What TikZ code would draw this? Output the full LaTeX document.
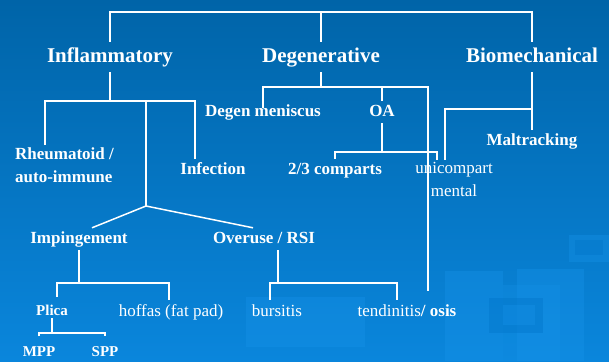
\documentclass[tikz,border=0pt]{standalone}
\usepackage{fontspec}
\setmainfont{Liberation Serif}
\usetikzlibrary{calc}
\definecolor{bgtop}{HTML}{0064A8}
\definecolor{bgmid}{HTML}{006AB4}
\definecolor{bgbot}{HTML}{0A86DC}
\definecolor{deco}{HTML}{1894EA}
\definecolor{decod}{HTML}{0074C8}
\begin{document}
\begin{tikzpicture}[x=1pt,y=-1pt,
  lbl/.style={text=white, inner xsep=0pt, anchor=base},
  lvlA/.style={lbl, font=\fontsize{21}{25}\selectfont\bfseries, text height=15pt, text depth=5pt, inner ysep=5pt},
  lvlB/.style={lbl, font=\fontsize{17}{23}\selectfont\bfseries, text height=12pt, text depth=4pt, inner ysep=3pt},
  lvlR/.style={lbl, font=\fontsize{17}{23}\selectfont, text height=12pt, text depth=4pt, inner ysep=4pt},
  lvlC/.style={lbl, font=\fontsize{15}{18}\selectfont\bfseries, text height=10.5pt, text depth=3.5pt, inner ysep=9pt},
  multi/.style={text=white, inner xsep=0pt},
  conn/.style={draw=white, line width=2pt}]
\useasboundingbox (0,0) rectangle (609,361);
\shade[top color=bgtop, middle color=bgmid, bottom color=bgbot] (0,0) rectangle (609,361);
% decorative background shapes
\fill[deco, opacity=0.35] (246,297) rectangle (365,347);
\fill[deco, opacity=0.35] (445,271) rectangle (503,361);
\fill[deco, opacity=0.35] (517,269) rectangle (584,361);
\fill[deco, opacity=0.25] (503,285) rectangle (560,361);
\fill[decod, opacity=0.4] (489,298) rectangle (543,333);
\fill[deco, opacity=0.35] (503,305) rectangle (535,325);
\fill[deco, opacity=0.35] (569,235) rectangle (609,262);
\fill[decod, opacity=0.4] (575,240) rectangle (603,255);

% nodes
\node[lvlA] (infl) at (110,62) {Inflammatory};
\node[lvlA] (degen) at (321,62) {Degenerative};
\node[lvlA] (bio) at (532,62) {Biomechanical};
\node[lvlB, text height=5pt] (meniscus) at (263,116) {Degen meniscus};
\node[lvlB] (oa) at (382,116) {OA};
\node[multi, anchor=north west, align=left, inner ysep=3pt, font=\fontsize{17}{23}\selectfont\bfseries] (rheum) at (15,145) {Rheumatoid /\\auto-immune};
\node[lvlB] (infection) at (213,174) {Infection};
\node[lvlB] (malt) at (532,145) {Maltracking};
\node[lvlB] (comparts) at (335,174) {2/3 comparts};
\node[multi, anchor=north, align=center, inner ysep=2pt, font=\fontsize{17}{23}\selectfont] (unicomp) at (454,160) {unicompart\\mental};
\node[lvlB] (impinge) at (79,243) {Impingement};
\node[lvlB] (overuse) at (264,243) {Overuse / RSI};
\node[lvlC, text height=18pt, text depth=3pt, inner ysep=0pt] (plica) at (52,315) {Plica};
\node[lvlR] (hoffas) at (171,316) {hoffas (fat pad)};
\node[lvlC] (mpp) at (39,356) {MPP};
\node[lvlC] (spp) at (105,356) {SPP};
\node[lvlR] (bursitis) at (277,316) {bursitis};
\node[lvlR] (tendinitis) at (407,316) {tendinitis\textbf{/ osis}};

% helper coordinates
\coordinate (topbar) at (0,12);
\coordinate (ibar) at (0,101);
\coordinate (fork) at (146,206);
\coordinate (rx) at (45,0);
\coordinate (ix) at (195,0);
\coordinate (dbar) at (0,87);
\coordinate (dR) at (428,0);
\coordinate (obar) at (0,152);
\coordinate (bbar) at (0,109);
\coordinate (pbar) at (0,283);
\coordinate (mbar) at (0,333);
\path ($(overuse.south)+(14,0)$) coordinate (ou)
      ($(bursitis.north)+(-7,0)$) coordinate (bu)
      ($(tendinitis.north)+(-10,0)$) coordinate (te)
      ($(plica.north)+(5,0)$) coordinate (pl)
      ($(hoffas.north)+(-2,0)$) coordinate (ho)
      ($(unicomp.north)+(-17,0)$) coordinate (u1)
      ($(unicomp.north)+(-9,0)$) coordinate (u2)
      ($(tendinitis.north -| dR)+(0,-9)$) coordinate (dend);

% connectors
\draw[conn] (infl.north) -- (infl.north |- topbar) -- (bio.north |- topbar) -- (bio.north);
\draw[conn] (degen.north) -- (degen.north |- topbar);
\draw[conn] (infl.south) -- (infl.south |- ibar);
\draw[conn] (rheum.north -| rx) -- (rx |- ibar) -- (ix |- ibar) -- (infection.north -| ix);
\draw[conn] (fork |- ibar) -- (fork);
\draw[line width=1.5pt, white] ($(impinge.north)+(13,0)$) -- (fork) -- ($(overuse.north)+(-11,0)$);
\draw[conn] (impinge.south) -- (impinge.south |- pbar);
\draw[conn] (pl) -- (pl |- pbar) -- (ho |- pbar) -- (ho);
\draw[conn] (plica.south) -- (plica.south |- mbar);
\draw[conn] (mpp.north) -- (mpp.north |- mbar) -- (spp.north |- mbar) -- (spp.north);
\draw[conn] (ou) -- (ou |- pbar);
\draw[conn] (bu) -- (bu |- pbar) -- (te |- pbar) -- (te);
\draw[conn] (degen.south) -- (degen.south |- dbar);
\draw[conn] (meniscus.north) -- (meniscus.north |- dbar) -- (dR |- dbar) -- (dend);
\draw[conn] (oa.north) -- (oa.north |- dbar);
\draw[conn] (oa.south) -- (oa.south |- obar);
\draw[conn] (comparts.north) -- (comparts.north |- obar) -- (u1 |- obar) -- (u1);
\draw[conn] (bio.south) -- (malt.north);
\draw[conn] (bio.south |- bbar) -- (u2 |- bbar) -- (u2);
\end{tikzpicture}
\end{document}
